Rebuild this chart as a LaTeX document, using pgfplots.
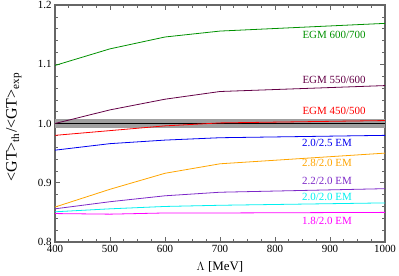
\documentclass[border=0pt]{standalone}
\usepackage{pgfplots}
\pgfplotsset{compat=1.18}
\usetikzlibrary{calc}
\usepackage{fontspec}
\setmainfont{Liberation Serif}
\definecolor{cgreen}{RGB}{0,145,0}
\definecolor{cmaroon}{RGB}{100,0,70}
\definecolor{cblue}{RGB}{0,0,240}
\definecolor{corange}{RGB}{255,165,0}
\definecolor{cpurple}{RGB}{125,40,200}
\definecolor{ccyan}{RGB}{0,240,240}
\definecolor{cmag}{RGB}{255,0,255}
\begin{document}
\begin{tikzpicture}
\begin{axis}[
  scale only axis, width=330bp, height=237bp,
  xmin=400, xmax=1000, ymin=0.8, ymax=1.2,
  xtick={400,500,...,1000}, ytick={0.8,0.9,1.0,1.1,1.2},
  minor x tick num=3, minor y tick num=4,
  yticklabel style={/pgf/number format/fixed, /pgf/number format/fixed zerofill, /pgf/number format/precision=1},
  /pgf/number format/assume math mode=true,
  tick label style={font=\fontsize{11}{11}\selectfont},
  xticklabel style={/pgf/number format/1000 sep={}},
  tick align=inside, tick pos=both,
  major tick length=5bp, minor tick length=3bp,
  axis line style={draw=gray!80!black, line width=1.2pt},
  every tick/.style={gray!80!black, line width=0.6pt},
  xlabel={$\Lambda$ [MeV]},
  ylabel={<GT>\textsubscript{th}/<GT>\textsubscript{exp}},
  xlabel style={font=\fontsize{13}{13}\selectfont, at={(axis description cs:0.5,-0.105)}, anchor=center},
  ylabel style={font=\fontsize{16}{16}\selectfont, at={(axis description cs:-0.125,0.485)}, anchor=center},
  clip=true,
]
\addplot[draw=none, fill=gray!75] coordinates {(400,0.993) (1000,0.993) (1000,1.007) (400,1.007)} -- cycle;
\addplot[black, line width=0.8pt] coordinates {(400,1.0) (1000,1.0)};
\addplot[cgreen, thick] coordinates {(400,1.098) (500,1.126) (600,1.146) (700,1.156) (1000,1.169)};
\addplot[cmaroon, thick] coordinates {(400,1.000) (500,1.023) (600,1.041) (700,1.054) (1000,1.064)};
\addplot[red, thick] coordinates {(400,0.980) (500,0.988) (600,0.996) (700,1.001) (1000,1.005)};
\addplot[cblue, thick] coordinates {(400,0.955) (500,0.966) (600,0.972) (700,0.976) (1000,0.980)};
\addplot[corange, thick] coordinates {(400,0.859) (500,0.889) (600,0.916) (700,0.932) (1000,0.950)};
\addplot[cpurple, thick] coordinates {(400,0.856) (500,0.868) (600,0.878) (700,0.884) (1000,0.890)};
\addplot[ccyan, thick] coordinates {(400,0.851) (500,0.856) (600,0.860) (700,0.862) (1000,0.866)};
\addplot[cmag, thick] coordinates {(400,0.848) (500,0.847) (600,0.849) (700,0.849) (1000,0.850)};
\begin{scope}[every node/.style={anchor=east, font=\fontsize{11}{11}\selectfont, inner sep=0pt}]
\node[cgreen] at (axis cs:965,1.149) {EGM 600/700};
\node[cmaroon] at (axis cs:965,1.073) {EGM 550/600};
\node[red] at (axis cs:965,1.021) {EGM 450/500};
\node[cblue] at (axis cs:940,0.968) {2.0/2.5 EM};
\node[corange] at (axis cs:940,0.933) {2.8/2.0 EM};
\node[cpurple] at (axis cs:940,0.903) {2.2/2.0 EM};
\node[ccyan] at (axis cs:940,0.876) {2.0/2.0 EM};
\node[cmag] at (axis cs:940,0.835) {1.8/2.0 EM};
\end{scope}
\end{axis}
\pgfresetboundingbox
\path[use as bounding box] ($(current axis.south west)+(-55bp,-33bp)$) rectangle ($(current axis.north east)+(14bp,5bp)$);
\end{tikzpicture}
\end{document}
